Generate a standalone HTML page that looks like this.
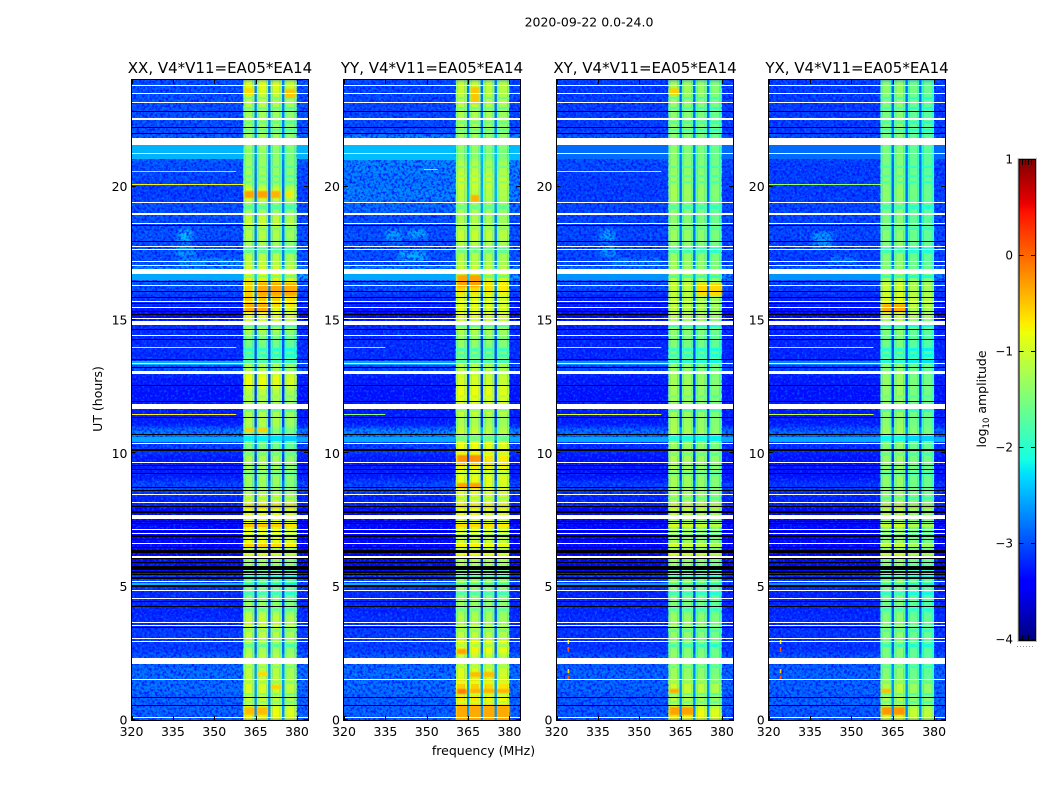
<!DOCTYPE html>
<html>
<head>
<meta charset="utf-8">
<title>2020-09-22 0.0-24.0</title>
<style>
html,body{margin:0;padding:0;background:#fff;}
svg{display:block;}
text{font-family:"DejaVu Sans","Liberation Sans",sans-serif;fill:#000;}
</style>
</head>
<body>
<svg id="fig" width="1050" height="800" viewBox="0 0 1050 800" xmlns="http://www.w3.org/2000/svg">
  <defs>
    <filter id="rowSmooth" x="0" y="0" width="100%" height="100%" color-interpolation-filters="sRGB">
      <feGaussianBlur stdDeviation="0 2"/>
    </filter>
    <filter id="speckleDark" x="0" y="0" width="100%" height="100%" color-interpolation-filters="sRGB">
      <feTurbulence type="fractalNoise" baseFrequency="0.38" numOctaves="2" seed="7"/>
      <feColorMatrix type="matrix" values="0 0 0 0 0  0 0 0 0 0.02  0 0 0 0 1  4 0 0 0 -1.75"/>
    </filter>
    <filter id="speckleLight" x="0" y="0" width="100%" height="100%" color-interpolation-filters="sRGB">
      <feTurbulence type="fractalNoise" baseFrequency="0.42" numOctaves="2" seed="23"/>
      <feColorMatrix type="matrix" values="0 0 0 0 0  0 0 0 0 0.72  0 0 0 0 1  0 4 0 0 -2.0"/>
    </filter>
    <filter id="blobBlur" x="-40%" y="-40%" width="180%" height="180%">
      <feGaussianBlur stdDeviation="2.5 1.5"/>
    </filter>
    <filter id="hotBlur" x="-20%" y="-60%" width="140%" height="220%">
      <feGaussianBlur stdDeviation="1 0.8"/>
    </filter>
  </defs>
  <rect width="1050" height="800" fill="#fff"/>
  <text x="589" y="26.5" font-size="12.5" text-anchor="middle">2020-09-22 0.0-24.0</text>
  <text x="220" y="73" font-size="15" text-anchor="middle">XX, V4*V11=EA05*EA14</text>
  <text x="432" y="73" font-size="15" text-anchor="middle">YY, V4*V11=EA05*EA14</text>
  <text x="645" y="73" font-size="15" text-anchor="middle">XY, V4*V11=EA05*EA14</text>
  <text x="857" y="73" font-size="15" text-anchor="middle">YX, V4*V11=EA05*EA14</text>
  <text transform="translate(102,399) rotate(-90)" font-size="12.5" text-anchor="middle">UT (hours)</text>
  <text x="483.5" y="755" font-size="12.5" text-anchor="middle">frequency (MHz)</text>
  <text transform="translate(986,399) rotate(-90)" font-size="12.5" text-anchor="middle">log<tspan font-size="8.5" dy="3">10</tspan><tspan dy="-3"> amplitude</tspan></text>
  <g id="panels"></g>
  <g id="colorbar"></g>
</svg>
<script>
// Channel edges (MHz) and what each channel shows: background, band segment core (s) or shoulder (h), gap, upper edge
const freqEdges = [320, 360.5, 361.2, 363.8, 364.6, 365.4, 366.2, 368.8, 369.6, 370.4, 371.2, 373.8, 374.6, 375.4, 376.2, 379.2, 380, 384];
const channelKinds = ['bg','h0','s0','h0','gap','h1','s1','h1','gap','h2','s2','h2','gap','h3','s3','h3','edge'];
const segSpans = [[360.5,364.6],[365.4,369.6],[370.4,374.6],[375.4,380]];
const gapSpans = [[364.6,365.4],[369.6,370.4],[374.6,375.4]];
const xTicks = [320, 335, 350, 365, 380];
const yTicks = [0, 5, 10, 15, 20];
const cbarTicks = [1, 0, -1, -2, -3, -4];
const cbarLabels = ['1', '0', '\u22121', '\u22122', '\u22123', '\u22124'];

// Flagged (white) time ranges, [UT start, UT end]
const whiteRanges = [[0.09,0.13],[1.48,1.52],[2.1,2.33],[2.91,2.95],[3.02,3.06],[3.54,3.58],[3.62,3.66],[4.52,4.56],[4.82,4.86],[5.16,5.2],[6.08,6.15],[6.58,6.62],[6.99,7.03],[7.14,7.18],[7.54,7.69],[8.12,8.16],[8.42,8.46],[9.62,9.66],[10.33,10.37],[11.66,11.85],[12.96,13.0],[13.0,13.1],[13.33,13.37],[14.38,14.42],[14.81,14.96],[15.02,15.06],[15.43,15.47],[15.69,15.73],[16.26,16.3],[16.73,16.91],[17.01,17.05],[17.19,17.23],[17.64,17.68],[17.72,17.76],[18.58,18.62],[18.93,19.01],[19.37,19.41],[21.21,21.25],[21.56,21.83],[22.5,22.58],[23.12,23.16],[23.49,23.53],[23.79,23.83]];
// Dead (black) time ranges, [UT start, UT end]
const blackRanges = [[0.51,0.55],[0.81,0.85],[3.43,3.47],[4.22,4.26],[4.44,4.48],[4.97,5.06],[5.31,5.38],[5.42,5.46],[5.49,5.57],[5.62,5.78],[5.87,5.91],[6.02,6.06],[6.24,6.36],[6.43,6.47],[6.73,6.77],[6.84,6.92],[7.03,7.07],[7.33,7.37],[7.41,7.45],[7.74,7.82],[7.97,8.01],[8.57,8.61],[8.68,8.72],[9.24,9.28],[9.39,9.43],[9.54,9.58],[10.07,10.11],[10.14,10.18],[10.67,10.71],[11.34,11.38],[11.94,11.98],[12.54,12.58],[13.18,13.22],[13.48,13.52],[14.23,14.27],[14.64,14.68],[15.17,15.21],[15.28,15.32],[15.58,15.62],[15.84,15.88],[16.03,16.07],[16.41,16.45],[17.16,17.2],[17.91,17.95],[18.53,18.57],[21.96,22.0],[22.18,22.22],[22.78,22.82]];

// Background log10 amplitude per half-hour row, UT 0 upward
const bgXX = [-2.85,-2.85,-2.8,-2.8,-2.85,-3.05,-3.05,-3.15,-3.2,-3.15,-3.0,-3.4,
              -3.5,-3.5,-3.45,-3.5,-3.2,-3.0,-3.25,-3.25,-3.05,-2.75,-3.25,-3.25,
              -3.3,-3.25,-2.95,-3.15,-3.15,-3.15,-3.35,-3.1,-2.95,-2.55,-2.95,-2.95,
              -2.95,-2.95,-2.95,-3.05,-3.0,-2.95,-2.85,-2.85,-2.95,-2.95,-2.95,-2.95];
const bgYY = [-2.85,-2.85,-2.8,-2.8,-2.85,-3.05,-3.05,-3.15,-3.2,-3.15,-3.0,-3.4,
              -3.5,-3.5,-3.45,-3.5,-3.2,-3.0,-3.25,-3.25,-3.05,-2.7,-3.25,-3.25,
              -3.3,-3.25,-3.0,-3.15,-3.15,-3.15,-3.35,-3.15,-2.95,-2.55,-2.95,-2.95,
              -2.95,-2.95,-2.8,-2.7,-2.75,-2.7,-2.65,-2.65,-3.0,-3.0,-3.0,-3.0];
const bgXY = [-2.9,-2.9,-2.85,-2.85,-2.9,-3.1,-3.1,-3.15,-3.2,-3.2,-3.05,-3.4,
              -3.5,-3.5,-3.45,-3.5,-3.2,-3.05,-3.3,-3.3,-3.15,-2.8,-3.25,-3.25,
              -3.3,-3.25,-3.0,-3.2,-3.2,-3.2,-3.35,-3.2,-3.0,-2.7,-3.0,-3.0,
              -3.0,-3.0,-3.0,-3.05,-3.05,-3.0,-2.95,-2.9,-3.05,-3.05,-3.05,-3.05];
const bgYX = [-2.9,-2.85,-2.85,-2.85,-2.9,-3.1,-3.1,-3.15,-3.2,-3.2,-3.05,-3.4,
              -3.5,-3.5,-3.45,-3.5,-3.2,-3.1,-3.3,-3.3,-3.15,-2.85,-3.25,-3.25,
              -3.3,-3.25,-3.05,-3.2,-3.2,-3.2,-3.35,-3.2,-3.05,-2.75,-3.05,-3.0,
              -3.0,-3.0,-3.0,-3.05,-3.05,-3.05,-3.0,-2.95,-3.05,-3.05,-3.05,-3.05];

// Band (360-380 MHz) log10 amplitude per half-hour row, UT 0 upward
const bandXX = [-0.75,-1.05,-0.95,-1.1,-1.1,-1.25,-1.1,-1.05,-1.3,-1.45,-1.55,-1.3,
                -1.25,-0.8,-0.8,-0.85,-0.95,-1.3,-1.25,-1.2,-1.5,-1.4,-1.15,-1.2,
                -1.1,-0.8,-1.2,-1.55,-1.5,-1.15,-0.8,-0.5,-0.55,-0.9,-1.1,-1.25,
                -1.15,-1.05,-1.35,-0.9,-1.3,-1.3,-1.35,-1.25,-1.3,-1.25,-1.1,-0.9];
const bandYY = [-0.25,-0.7,-0.55,-0.9,-1.1,-0.75,-1.1,-1.2,-1.3,-1.35,-1.3,-1.2,
                -1.1,-1.0,-0.9,-0.85,-0.9,-0.85,-0.8,-0.6,-0.8,-1.05,-1.2,-0.95,
                -0.8,-0.95,-1.15,-1.4,-1.35,-1.15,-0.85,-0.9,-0.6,-1.0,-1.15,-1.15,
                -1.05,-1.2,-1.25,-1.1,-1.0,-1.15,-1.4,-1.3,-1.25,-1.2,-1.1,-1.05];
const bandXY = [-0.65,-1.1,-0.95,-1.25,-1.3,-1.35,-1.3,-1.25,-1.4,-1.4,-1.3,-1.3,
                -1.2,-1.2,-1.2,-1.05,-1.15,-1.2,-1.2,-1.15,-1.25,-1.15,-1.2,-1.25,
                -1.2,-1.2,-1.3,-1.45,-1.4,-1.3,-1.05,-1.05,-1.0,-1.2,-1.25,-1.3,
                -1.25,-1.35,-1.35,-1.2,-1.25,-1.3,-1.35,-1.35,-1.35,-1.35,-1.25,-1.2];
const bandYX = [-0.8,-1.15,-1.05,-1.35,-1.4,-1.4,-1.35,-1.35,-1.45,-1.45,-1.35,-1.35,
                -1.25,-1.25,-1.25,-1.1,-1.25,-1.3,-1.3,-1.25,-1.35,-1.2,-1.3,-1.3,
                -1.25,-1.25,-1.35,-1.5,-1.45,-1.35,-0.95,-0.85,-0.95,-1.3,-1.35,-1.35,
                -1.35,-1.4,-1.4,-1.3,-1.35,-1.4,-1.4,-1.4,-1.4,-1.4,-1.35,-1.3];

// Per-segment offset across the four band segments
const segOffsetXX = [0, 0, -0.05, -0.15];
const segOffsetYY = [0, 0, -0.05, -0.1];
const segOffsetXY = [-0.05, -0.1, -0.15, -0.25];
const segOffsetYX = [-0.1, -0.05, -0.25, -0.3];

// Thin horizontal stripes through the band: [UT start, hours, change in log10 amplitude]
const bandStripes = [[23.3,0.08,-0.35],[22.9,0.08,-0.35],[22.35,0.1,-0.3],[22.1,0.08,-0.35],[20.7,0.08,-0.3],[20.36,0.08,-0.3],[20.14,0.06,-0.3],[19.15,0.15,-0.35],[18.4,0.1,-0.3],[17.5,0.2,-0.4],[16.6,0.1,-0.5],[14.75,0.1,-0.5],[13.85,0.1,-0.4],[13.6,0.12,-0.35],[13.4,0.1,-0.6],[12.1,0.1,-0.25],[11.55,0.1,-0.4],[10.45,0.2,-0.7],[9.9,0.1,-0.3],[9.2,0.1,-0.3],[8.25,0.12,-0.35],[7.25,0.1,0.3],[6.9,0.1,-0.3],[6.5,0.1,0.25],[6.2,0.1,0.25],[5.55,0.08,-0.35],[5.3,0.1,-0.5],[5.05,0.1,-0.5],[4.7,0.1,-0.4],[4.1,0.1,-0.25],[3.3,0.1,-0.3],[2.75,0.1,-0.4],[1.95,0.08,-0.3],[1.35,0.1,-0.35],[0.95,0.08,-0.35],[0.65,0.08,-0.3]];

// Localised features: [UT start, UT end, MHz start, MHz end, log10 amplitude]
const stripsXX = [
  [21.05,21.56,320,360.5,-2.5],[21.05,21.56,380,384,-2.5],[16.5,16.73,320,360.5,-2.55],[10.42,10.62,320,360.5,-2.55],[10.42,10.62,380,384,-2.55],[5.04,5.15,320,360.5,-2.45],[13.3,13.45,320,360.5,-2.5],
  [20.07,20.11,320,361,-0.75],[20.56,20.6,320,358,-1.5],[13.95,13.99,320,358,-1.0],[11.44,11.48,320,358,-0.7],
  [19.6,19.85,361,364.5,-0.3],[19.6,19.85,365.5,369.5,-0.3],[19.6,19.85,370.5,374,-0.4],[19.6,19.8,376,378,-0.65],
  [23.45,23.7,361,364.5,-0.6],[23.3,23.65,375.5,379.5,-0.5],
  [15.9,16.4,365.5,380,-0.35],[15.3,15.6,361,370,-0.35],[7.95,8.07,361,380,-0.15],[0.2,0.5,361,369.5,-0.45],[1.15,1.3,370.5,374.5,-0.55],[1.65,1.8,365.5,369.5,-0.6],[10.8,10.95,361,370,-0.55]];
const stripsYY = [
  [21.0,21.56,320,360.5,-2.45],[21.0,21.56,380,384,-2.45],[16.5,16.73,320,360.5,-2.55],[10.42,10.62,320,360.5,-2.55],[10.42,10.62,380,384,-2.55],[5.04,5.15,320,360.5,-2.5],[13.3,13.45,320,360.5,-2.55],
  [13.95,13.99,320,335,-1.4],[11.44,11.48,320,335,-1.4],[20.63,20.67,349,354,-1.5],
  [0,0.55,361,380,-0.35],[0.95,1.15,361,364.5,-0.1],[1.0,1.15,365.5,380,-0.4],[1.6,1.8,365.5,375,-0.45],[2.45,2.65,361,364.5,-0.3],[9.7,9.95,361,370,-0.2],[8.7,8.9,361,370,-0.3],
  [16.25,16.7,361,370,-0.3],[19.45,19.7,366,369,-0.4],[23.1,23.75,366,369,-0.5],[7.95,8.05,361,380,-0.4]];
const stripsXY = [
  [21.05,21.56,320,360.5,-2.85],[21.05,21.56,380,384,-2.85],[16.5,16.73,320,360.5,-2.65],[10.42,10.62,320,360.5,-2.55],[10.42,10.62,380,384,-2.55],[5.04,5.15,320,360.5,-2.6],[13.3,13.45,320,360.5,-2.65],
  [20.56,20.6,320,358,-1.0],[13.95,13.99,320,358,-1.05],[11.44,11.48,320,358,-0.85],[2.85,3.0,324,324.6,-0.7],[2.55,2.75,324,324.6,0.1],[1.75,1.9,324,324.6,-0.6],[1.5,1.65,324,324.6,0.1],
  [0.2,0.5,361,370,-0.3],[1.0,1.15,361,364.5,-0.35],[15.9,16.4,371,380,-0.6],[23.45,23.7,361,364.5,-0.55],[7.95,8.07,361,380,-0.45]];
const stripsYX = [
  [21.05,21.56,320,360.5,-2.85],[21.05,21.56,380,384,-2.85],[16.5,16.73,320,360.5,-2.65],[10.42,10.62,320,360.5,-2.55],[10.42,10.62,380,384,-2.55],[5.04,5.15,320,360.5,-2.65],[13.3,13.45,320,360.5,-2.7],
  [20.07,20.1,320,361,-1.3],[13.95,13.99,320,358,-1.1],[11.44,11.48,320,358,-1.0],[2.85,3.0,324,324.6,-0.7],[2.55,2.75,324,324.6,0.1],[1.75,1.9,324,324.6,-0.6],[1.5,1.65,324,324.6,0.1],
  [0.2,0.5,361,369.5,-0.25],[1.0,1.15,361,364.5,-0.45],[15.3,15.6,361,370,-0.35],[7.95,8.07,361,380,-0.3]];

// Diffuse ionospheric blobs: [UT start, UT end, MHz start, MHz end, log10 amplitude]
const blobsXX = [[17.9,18.4,337,342,-2.45],[17.35,17.8,336,343,-2.6],[17.05,17.3,337,360,-2.6]];
const blobsYY = [[17.9,18.4,335,341,-2.6],[18.05,18.4,343,350,-2.55],[17.2,17.6,340,350,-2.5]];
const blobsXY = [[17.9,18.4,336,341,-2.55],[17.35,17.8,336,342,-2.65],[17.05,17.3,340,358,-2.7]];
const blobsYX = [[17.7,18.3,336,343,-2.6],[17.1,17.4,342,352,-2.75]];

const gapLift = 0.2;
const shoulderDrop = -0.3;

const panels = [
  {name:'xx', left:131.5, bg:bgXX, band:bandXX, seg:segOffsetXX, strips:stripsXX, blobs:blobsXX},
  {name:'yy', left:344, bg:bgYY, band:bandYY, seg:segOffsetYY, strips:stripsYY, blobs:blobsYY},
  {name:'xy', left:556.5, bg:bgXY, band:bandXY, seg:segOffsetXY, strips:stripsXY, blobs:blobsXY},
  {name:'yx', left:768.7, bg:bgYX, band:bandYX, seg:segOffsetYX, strips:stripsYX, blobs:blobsYX}
];

const NS = 'http://www.w3.org/2000/svg';
const plotTop = 80, plotBottom = 720, plotW = 176.5;
const fMin = 320, fMax = 384, utMax = 24;
const rowHours = 0.5;

function yOf(ut){ return plotBottom - (plotBottom - plotTop) * ut / utMax; }
function xOf(left, f){ return left + plotW * (f - fMin) / (fMax - fMin); }

function clamp01(t){ return Math.max(0, Math.min(1, t)); }
function ramp(t, pts){
  for (let i = 1; i < pts.length; i++) {
    if (t <= pts[i][0]) {
      const a = pts[i-1], b = pts[i];
      return a[1] + (b[1]-a[1]) * (t-a[0]) / (b[0]-a[0]);
    }
  }
  return pts[pts.length-1][1];
}
function jet(v){
  const t = clamp01((v + 4) / 5);
  const r = ramp(t, [[0,0],[0.35,0],[0.66,1],[0.89,1],[1,0.5]]);
  const g = ramp(t, [[0,0],[0.125,0],[0.375,1],[0.64,1],[0.91,0],[1,0]]);
  const b = ramp(t, [[0,0.5],[0.11,1],[0.34,1],[0.65,0],[1,0]]);
  return 'rgb(' + Math.round(r*255) + ',' + Math.round(g*255) + ',' + Math.round(b*255) + ')';
}
function make(tag, attrs, parent){
  const el = document.createElementNS(NS, tag);
  for (const k in attrs) el.setAttribute(k, attrs[k]);
  parent.appendChild(el);
  return el;
}
function rowOf(ut){ return Math.max(0, Math.min(47, Math.floor(ut / rowHours))); }

const panelRoot = document.getElementById('panels');

panels.forEach(function(p){
  const g = make('g', {}, panelRoot);
  
  

  const clipId = 'clip-' + p.name;
  const clip = make('clipPath', {id: clipId}, g);
  make('rect', {x: p.left, y: plotTop, width: plotW, height: plotBottom - plotTop}, clip);

  const holder = make('g', {'clip-path': 'url(#' + clipId + ')'}, g);
  
  

  const base = make('rect', {x: p.left, y: plotTop, width: plotW, height: plotBottom - plotTop, fill: jet(-3)}, holder);
  
  

  const cells = make('g', {filter: 'url(#rowSmooth)'}, holder);
  
  

  p.bg.forEach(function(bgVal, r){
    const bandVal = p.band[r];
    channelKinds.forEach(function(kind, c){
      let v;
      if (kind === 'bg' || kind === 'edge') v = bgVal;
      else if (kind === 'gap') v = bgVal + gapLift;
      else {
        const segIndex = Number(kind.charAt(1));
        v = bandVal + p.seg[segIndex] + (kind.charAt(0) === 'h' ? shoulderDrop : 0);
      }
      const x0 = xOf(p.left, freqEdges[c]);
      const x1 = xOf(p.left, freqEdges[c + 1]);
      const y1 = yOf(r * rowHours);
      const y0 = yOf((r + 1) * rowHours);
      const cell = make('rect', {x: x0, y: y0 - 0.5, width: x1 - x0, height: y1 - y0 + 1, fill: jet(v)}, cells);
      
      
    });
  });

  // Thin stripes through the four band segments
  bandStripes.forEach(function(st){
    const row = rowOf(st[0]);
    segSpans.forEach(function(span, si){
      const stripe = make('rect', {x: xOf(p.left, span[0]), y: Math.round(yOf(st[0] + st[1])), width: xOf(p.left, span[1]) - xOf(p.left, span[0]), height: Math.max(1, Math.round(yOf(st[0]) - yOf(st[0] + st[1]))), fill: jet(p.band[row] + p.seg[si] + st[2])}, holder);
      
      
    });
  });

  p.blobs.forEach(function(b){
    const blob = make('rect', {x: xOf(p.left, b[2]), y: yOf(b[1]), width: xOf(p.left, b[3]) - xOf(p.left, b[2]), height: yOf(b[0]) - yOf(b[1]), fill: jet(b[4]), filter: 'url(#blobBlur)'}, holder);
    
    
  });

  // Pixel speckle over the off-band background
  [[fMin, 360.5], [380, fMax]].forEach(function(span){
    const spDark = make('rect', {x: xOf(p.left, span[0]), y: plotTop, width: xOf(p.left, span[1]) - xOf(p.left, span[0]), height: plotBottom - plotTop, filter: 'url(#speckleDark)', opacity: 0.8}, holder);
    
    
    const spLight = make('rect', {x: xOf(p.left, span[0]), y: plotTop, width: xOf(p.left, span[1]) - xOf(p.left, span[0]), height: plotBottom - plotTop, filter: 'url(#speckleLight)', opacity: 0.35}, holder);
    
    
  });

  // Strips, spectral lines and band hot spots sit above the speckle; thin ones snap to whole pixels
  p.strips.forEach(function(s){
    const top = Math.round(yOf(s[1]));
    const tall = Math.max(1, Math.round(yOf(s[0]) - yOf(s[1])));
    const attrs = {x: xOf(p.left, s[2]), y: top, width: xOf(p.left, s[3]) - xOf(p.left, s[2]), height: tall, fill: jet(s[4])};
    if (s[2] >= 360 && s[2] < 380) attrs.filter = 'url(#hotBlur)';
    const strip = make('rect', attrs, holder);
    
    
  });

  // Gap channels stay sharp above everything in the band
  p.bg.forEach(function(bgVal, r){
    gapSpans.forEach(function(span){
      const y0 = yOf((r + 1) * rowHours);
      const y1 = yOf(r * rowHours);
      const gap = make('rect', {x: xOf(p.left, span[0]), y: y0, width: xOf(p.left, span[1]) - xOf(p.left, span[0]), height: y1 - y0 + 0.5, fill: jet(bgVal + gapLift)}, holder);
      
      
    });
  });

  blackRanges.forEach(function(rg){
    const line = make('rect', {x: p.left, y: Math.round(yOf(rg[1])), width: plotW, height: Math.max(1, Math.round(yOf(rg[0]) - yOf(rg[1]))), fill: '#000'}, holder);
    
    
  });
  whiteRanges.forEach(function(rg){
    const line = make('rect', {x: p.left, y: Math.round(yOf(rg[1])), width: plotW, height: Math.max(1, Math.round(yOf(rg[0]) - yOf(rg[1]))), fill: '#fff'}, holder);
    
    
  });

  const frame = make('rect', {x: Math.round(p.left) - 0.5, y: plotTop - 0.5, width: plotW + 0.5, height: plotBottom - plotTop + 1, fill: 'none', stroke: '#000', 'stroke-width': 1}, g);
  
  

  xTicks.forEach(function(f){
    const x = Math.round(xOf(p.left, f)) + 0.5;
    const bottomTick = make('line', {x1: x, x2: x, y1: plotBottom, y2: plotBottom - 4, stroke: '#000'}, g);
    
    
    const topTick = make('line', {x1: x, x2: x, y1: plotTop, y2: plotTop + 4, stroke: '#000'}, g);
    
    
    const label = make('text', {x: xOf(p.left, f), y: 736, 'font-size': 12.5, 'text-anchor': 'middle'}, g);
    label.textContent = String(f);
    
    
  });

  yTicks.forEach(function(u){
    const y = Math.round(yOf(u)) - 0.5;
    const leftTick = make('line', {x1: p.left, x2: p.left + 4, y1: y, y2: y, stroke: '#000'}, g);
    
    
    const rightTick = make('line', {x1: p.left + plotW, x2: p.left + plotW - 4, y1: y, y2: y, stroke: '#000'}, g);
    
    
    const label = make('text', {x: p.left - 4, y: yOf(u) + 4.5, 'font-size': 12.5, 'text-anchor': 'end'}, g);
    label.textContent = String(u);
    
    
  });
});

// Colorbar
const cbar = document.getElementById('colorbar');
const cbX = 1019.5, cbW = 15.5, cbTop = 160, cbBottom = 640;
const cbMin = -4, cbMax = 1;
function cbY(v){ return cbBottom - (cbBottom - cbTop) * (v - cbMin) / (cbMax - cbMin); }

for (let px = cbTop; px < cbBottom; px += 2) {
  const v = cbMin + (cbBottom - px - 1) / (cbBottom - cbTop) * (cbMax - cbMin);
  const swatch = make('rect', {x: cbX, y: px, width: cbW, height: 2.2, fill: jet(v)}, cbar);
  
  
}
const cbOutline = make('rect', {x: cbX - 0.5, y: cbTop - 0.5, width: cbW + 1, height: cbBottom - cbTop + 1, fill: 'none', stroke: '#000'}, cbar);


const cbHalo = make('rect', {x: cbX - 1.5, y: cbTop - 1.5, width: cbW + 3, height: cbBottom - cbTop + 3, fill: 'none', stroke: '#bbb'}, cbar);



cbarTicks.forEach(function(v, i){
  const y = Math.round(cbY(v)) - 0.5;
  const l = make('line', {x1: cbX, x2: cbX + 4, y1: y, y2: y, stroke: '#000'}, cbar);
  
  
  const r = make('line', {x1: cbX + cbW, x2: cbX + cbW - 4, y1: y, y2: y, stroke: '#000'}, cbar);
  
  
  const label = make('text', {x: 1013, y: cbY(v) + 3.5, 'font-size': 12, 'text-anchor': 'end'}, cbar);
  label.textContent = cbarLabels[i];
  
  
});

for (let i = 1; i < 5; i++) {
  const xm = cbX + i * 3;
  const mt = make('line', {x1: xm, x2: xm, y1: cbTop, y2: cbTop + 5, stroke: '#000'}, cbar);
  
  
  const mb = make('line', {x1: xm, x2: xm, y1: cbBottom, y2: cbBottom - 5, stroke: '#000'}, cbar);
  
  
}
const dots = make('line', {x1: 1017, x2: 1035, y1: 646.5, y2: 646.5, stroke: '#999', 'stroke-dasharray': '1 2'}, cbar);


</script>
</body>
</html>
